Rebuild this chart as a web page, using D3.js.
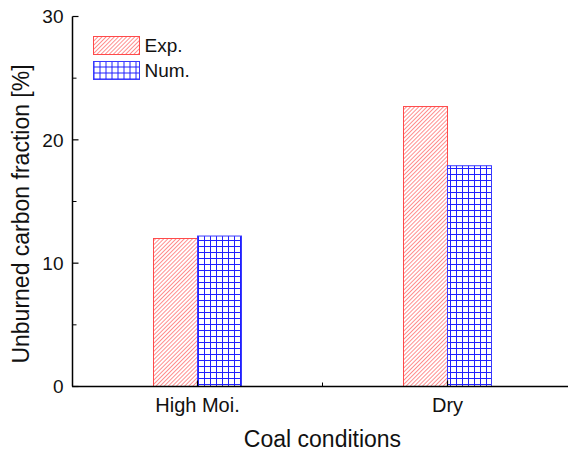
<!DOCTYPE html>
<html lang="en">
<head>
    <meta charset="UTF-8">
    <title>Unburned carbon fraction</title>
    <style>
        body { margin: 0; padding: 0; background: #fff; }
        svg text { font-family: 'Liberation Sans', Arial, sans-serif; fill: #111; }
    </style>
</head>
<body>
<div id="chart"></div>
<script src="https://d3js.org/d3.v7.min.js"></script>
<script>
    // data
    const categories = ["High Moi.", "Dry"];
    const seriesNames = ["Exp.", "Num."];
    const expValues = [12.0, 22.7];
    const numValues = [12.2, 17.9];
    const yTicks = [0, 10, 20, 30];
    const yMinorTicks = [5, 15, 25];

    const width = 568, height = 455;
    const svg = d3.select("#chart").append("svg")
        .attr("width", width)
        .attr("height", height);

    const defs = svg.append("defs");

    // red diagonal hatching
    const hatch = defs.append("pattern")
        .attr("id", "hatch")
        .attr("patternUnits", "userSpaceOnUse")
        .attr("width", 2.9).attr("height", 2.9)
        .attr("patternTransform", "rotate(45)");
    hatch.append("rect").attr("width", 2.9).attr("height", 2.9).attr("fill", "#fff");
    hatch.append("line")
        .attr("x1", 0).attr("y1", 0).attr("x2", 0).attr("y2", 2.9)
        .attr("stroke", "#ff2020").attr("stroke-width", 1);

    // blue grid
    const grid = defs.append("pattern")
        .attr("id", "grid")
        .attr("patternUnits", "userSpaceOnUse")
        .attr("width", 6).attr("height", 6);
    grid.append("rect").attr("width", 6).attr("height", 6).attr("fill", "#fff");
    grid.append("path")
        .attr("d", "M0.5,0V6M0,0.5H6")
        .attr("stroke", "#2020ff").attr("stroke-width", 1);

    const x = d3.scaleLinear().domain([0.5, 2.5]).range([72.5, 572.5]);
    const y = d3.scaleLinear().domain([0, 30]).range([386.5, 16.5]);
    const barW = 0.176;

    const fills = ["url(#hatch)", "url(#grid)"];
    const strokes = ["#ff4a4a", "#3a3aff"];
    const series = [expValues, numValues];

    series.forEach(function (vals, s) {
        svg.append("g").selectAll("rect")
            .data(vals)
            .enter().append("rect")
            .attr("x", function (d, i) { return x(i + 1) - (s === 0 ? barW : 0) * 250; })
            .attr("width", barW * 250)
            .attr("y", function (d) { return y(d); })
            .attr("height", function (d) { return y(0) - y(d); })
            .attr("fill", fills[s])
            .attr("stroke", strokes[s])
            .attr("stroke-width", 1);
    });

    // y axis
    const yAxis = svg.append("g").attr("transform", "translate(72.5,0)");
    yAxis.append("line")
        .attr("y1", y(30)).attr("y2", y(0))
        .attr("stroke", "#000").attr("stroke-width", 1.5);
    yAxis.selectAll(".major").data(yTicks).enter().append("line")
        .attr("x1", 0).attr("x2", 6)
        .attr("y1", function (d) { return y(d); })
        .attr("y2", function (d) { return y(d); })
        .attr("stroke", "#000").attr("stroke-width", 1.2);
    yAxis.selectAll(".minor").data(yMinorTicks).enter().append("line")
        .attr("x1", 0).attr("x2", 4)
        .attr("y1", function (d) { return y(d); })
        .attr("y2", function (d) { return y(d); })
        .attr("stroke", "#000").attr("stroke-width", 1);
    yAxis.selectAll("text").data(yTicks).enter().append("text")
        .attr("x", -9)
        .attr("y", function (d) { return y(d); })
        .attr("dy", "0.36em")
        .attr("text-anchor", "end")
        .attr("font-size", 19)
        .text(function (d) { return d; });

    // x axis
    const xAxis = svg.append("g").attr("transform", "translate(0," + y(0) + ")");
    xAxis.append("line")
        .attr("x1", 72).attr("x2", width)
        .attr("stroke", "#000").attr("stroke-width", 1.5);
    xAxis.selectAll(".major").data(categories).enter().append("line")
        .attr("x1", function (d, i) { return x(i + 1); })
        .attr("x2", function (d, i) { return x(i + 1); })
        .attr("y1", 0).attr("y2", -6)
        .attr("stroke", "#000").attr("stroke-width", 1.2);
    xAxis.append("line")
        .attr("x1", x(1.5)).attr("x2", x(1.5))
        .attr("y1", 0).attr("y2", -4)
        .attr("stroke", "#000").attr("stroke-width", 1);
    xAxis.selectAll("text").data(categories).enter().append("text")
        .attr("x", function (d, i) { return x(i + 1); })
        .attr("y", 25)
        .attr("text-anchor", "middle")
        .attr("font-size", 20)
        .text(function (d) { return d; });

    // axis titles
    svg.append("text")
        .attr("x", x(1.5))
        .attr("y", 447)
        .attr("text-anchor", "middle")
        .attr("font-size", 23)
        .text("Coal conditions");
    svg.append("text")
        .attr("transform", "translate(29,214) rotate(-90)")
        .attr("text-anchor", "middle")
        .attr("font-size", 23)
        .text("Unburned carbon fraction [%]");

    // legend
    const legend = svg.append("g").attr("transform", "translate(93.5,36.5)");
    seriesNames.forEach(function (name, s) {
        legend.append("rect")
            .attr("x", 0).attr("y", s * 25)
            .attr("width", 46).attr("height", 18)
            .attr("fill", fills[s])
            .attr("stroke", strokes[s])
            .attr("stroke-width", 1);
        legend.append("text")
            .attr("x", 51).attr("y", s * 25 + 9)
            .attr("dy", "0.36em")
            .attr("font-size", 19)
            .text(name);
    });
</script>
</body>
</html>
